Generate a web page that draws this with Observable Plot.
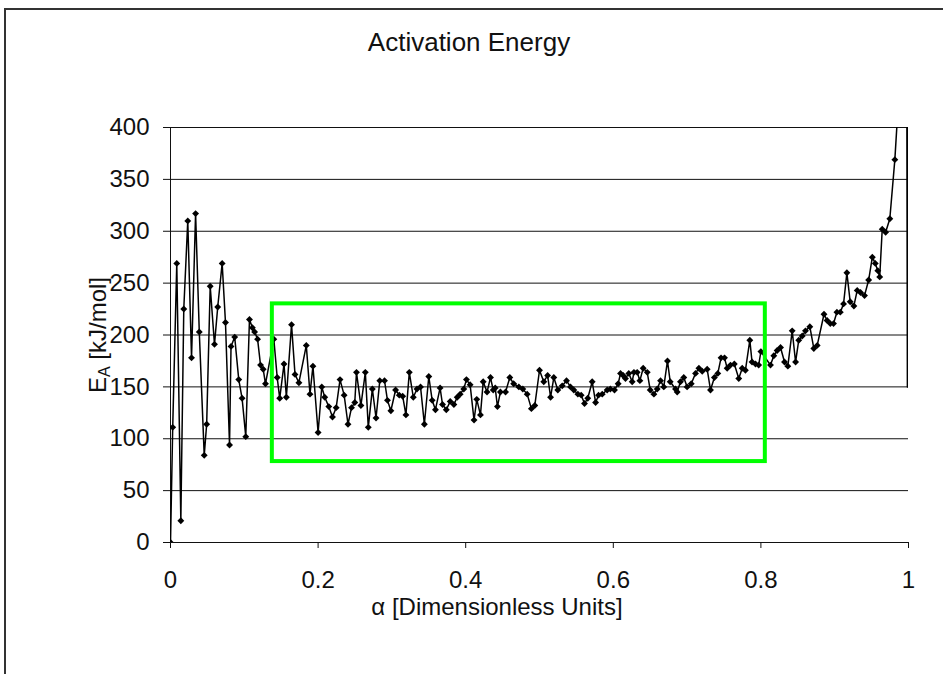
<!DOCTYPE html>
<html><head><meta charset="utf-8">
<script src="https://cdn.jsdelivr.net/npm/d3@7"></script>
<script src="https://cdn.jsdelivr.net/npm/@observablehq/plot@0.6"></script>
<style>
html,body{margin:0;padding:0;background:#fff;overflow:hidden;width:943px;height:674px;}
#frame{position:absolute;left:4px;top:8px;width:1200px;height:1000px;border:2px solid #333;box-sizing:border-box;z-index:5;pointer-events:none;background:transparent;}
#title{position:absolute;left:0;top:29px;width:938px;text-align:center;font-family:"Liberation Sans",Arial,sans-serif;font-size:26px;line-height:26px;color:#111;}
#chart{position:absolute;left:0;top:80px;}
</style></head><body>
<div id="title">Activation Energy</div>
<div id="chart"></div>
<div id="frame"></div>
<script>
// α [dimensionless] values
const alpha = [
  0, 0.003, 0.0085, 0.014, 0.018, 0.0234, 0.0285, 0.034, 0.039, 0.0457,
  0.049, 0.0538, 0.0596, 0.064, 0.070, 0.0745, 0.080, 0.082, 0.087, 0.0925,
  0.097, 0.102, 0.107, 0.111, 0.114, 0.118, 0.122, 0.1256, 0.1287, 0.140,
  0.1446, 0.148, 0.1538, 0.157, 0.164, 0.1687, 0.174, 0.184, 0.189, 0.193,
  0.200, 0.205, 0.209, 0.2145, 0.2195, 0.2245, 0.2297, 0.2353, 0.2405, 0.2453,
  0.2497, 0.252, 0.258, 0.264, 0.268, 0.2735, 0.2785, 0.2836, 0.290, 0.294,
  0.2986, 0.305, 0.310, 0.3146, 0.319, 0.3236, 0.329, 0.334, 0.3388, 0.344,
  0.350, 0.3546, 0.359, 0.3653, 0.3686, 0.3737, 0.379, 0.384, 0.3885, 0.3925,
  0.3974, 0.401, 0.406, 0.4113, 0.415, 0.420, 0.4237, 0.4289, 0.4336, 0.4373,
  0.440, 0.443, 0.447, 0.454, 0.4598, 0.465, 0.472, 0.4774, 0.4833, 0.489,
  0.4936, 0.500, 0.5058, 0.511, 0.515, 0.5194, 0.5248, 0.5308, 0.5366, 0.542,
  0.5465, 0.552, 0.5565, 0.561, 0.5654, 0.5714, 0.576, 0.580, 0.585, 0.5917,
  0.596, 0.6016, 0.6066, 0.6098, 0.6134, 0.6165, 0.621, 0.6256, 0.628, 0.6324,
  0.636, 0.6405, 0.646, 0.650, 0.655, 0.6595, 0.664, 0.6684, 0.6734, 0.6771,
  0.6843, 0.6866, 0.691, 0.6955, 0.700, 0.7056, 0.7114, 0.716, 0.7205, 0.7272,
  0.7317, 0.737, 0.7416, 0.746, 0.7507, 0.7543, 0.7588, 0.764, 0.770, 0.7747,
  0.779, 0.785, 0.788, 0.7927, 0.797, 0.800, 0.813, 0.8175, 0.822, 0.8266,
  0.832, 0.8365, 0.8424, 0.847, 0.8513, 0.856, 0.8604, 0.8663, 0.8717, 0.8763,
  0.8855, 0.8897, 0.894, 0.8984, 0.903, 0.9076, 0.912, 0.9165, 0.921, 0.926,
  0.9305, 0.935, 0.9404, 0.946, 0.951, 0.955, 0.9584, 0.961, 0.9644, 0.969,
  0.9747, 0.9815, 0.985, 0.997, 0.9985, 1.0
];
// Activation energy E_A [kJ/mol]
const energy = [
  0, 111, 269, 21, 225, 310, 178, 317, 203, 84,
  114, 247, 191, 227, 269, 212, 94, 189, 198, 157,
  139, 102, 215, 207, 203, 196, 171, 167, 153, 196,
  159, 139, 172, 140, 210, 162, 154, 190, 143, 170,
  106, 150, 140, 131, 121, 130, 157, 142, 114, 130,
  135, 164, 132, 164, 111, 148, 120, 156, 156, 137,
  127, 147, 142, 141, 123, 164, 140, 148, 150, 114,
  160, 137, 128, 149, 133, 128, 136, 133, 140, 143,
  148, 157, 152, 118, 138, 123, 155, 145, 159, 147,
  149, 131, 145, 145, 159, 153, 150, 148, 143, 129,
  132, 166, 155, 161, 140, 159, 147, 151, 156, 150,
  147, 143, 142, 134, 139, 155, 135, 142, 143, 147,
  148, 147, 153, 163, 161, 158, 163, 155, 164, 164,
  156, 168, 164, 147, 143, 148, 156, 150, 175, 155,
  148, 145, 155, 159, 150, 153, 163, 168, 165, 167,
  147, 159, 163, 178, 178, 168, 171, 172, 158, 168,
  166, 195, 174, 172, 171, 184, 171, 180, 185, 188,
  174, 170, 204, 174, 195, 199, 204, 208, 187, 190,
  220, 214, 211, 211, 222, 222, 230, 260, 232, 228,
  243, 241, 238, 253, 275, 269, 262, 256, 302, 299,
  312, 369, 410, 700, 150, 700
];
const yTicks = [0, 50, 100, 150, 200, 250, 300, 350, 400];
const gridValues = [0, 50, 100, 150, 200, 250, 300, 350, 400];
const xTicks = [0, 0.2, 0.4, 0.6, 0.8, 1];
const xTickLabels = ["0", "0.2", "0.4", "0.6", "0.8", "1"];
// highlighted region: alpha range and energy range
const boxAlpha = [0.138, 0.806];
const boxEnergy = [78, 230];

const data = alpha.map((a, i) => ({a, e: energy[i]}));
const markerData = data.filter(d => d.e <= 400 && d.a < 0.99);
const highlightBox = [{x1: boxAlpha[0], x2: boxAlpha[1], y1: boxEnergy[0], y2: boxEnergy[1]}];
const font = '"Liberation Sans", Arial, sans-serif';

const chart = Plot.plot({
  width: 943, height: 594,
  marginLeft: 170, marginRight: 35, marginTop: 47, marginBottom: 132,
  x: {domain: [0, 1]},
  y: {domain: [0, 400]},
  style: {fontFamily: font, fontSize: "24px", color: "#111", background: "transparent", overflow: "visible"},
  marks: [
    Plot.ruleY(gridValues, {stroke: "#111", strokeWidth: 1}),
    Plot.ruleX([0], {stroke: "#111", strokeWidth: 1}),
    Plot.axisY({ticks: yTicks, tickSize: 7, tickPadding: 14, label: null, fontSize: 24, stroke: "#111"}),
    Plot.axisX({ticks: xTicks, tickSize: 6, tickPadding: 22, label: null, fontSize: 24, stroke: "#111",
      tickFormat: d => xTickLabels[xTicks.indexOf(d)]}),
    Plot.line(data, {x: "a", y: "e", stroke: "#000", strokeWidth: 1.5, clip: true}),
    Plot.dot(markerData, {x: "a", y: "e", symbol: "diamond2", r: 3.1, fill: "#000", stroke: "none", clip: true}),
    Plot.rect(highlightBox, {x1: "x1", x2: "x2", y1: "y1", y2: "y2", stroke: "#00ff00", strokeWidth: 4, fill: "none"})
  ]
});
document.getElementById("chart").appendChild(chart);

const svg = d3.select(chart);
svg.append("text")
  .attr("x", 497).attr("y", 535)
  .attr("text-anchor", "middle")
  .attr("font-family", font).attr("font-size", 24).attr("fill", "#111")
  .text("α [Dimensionless Units]");
const yl = svg.append("text")
  .attr("transform", "translate(106,255) rotate(-90)")
  .attr("text-anchor", "middle")
  .attr("font-family", font).attr("font-size", 24).attr("fill", "#111");
yl.append("tspan").text("E");
yl.append("tspan").attr("font-size", 16).attr("dy", 4).text("A");
yl.append("tspan").attr("dy", -4).text(" [kJ/mol]");
</script>
</body></html>
